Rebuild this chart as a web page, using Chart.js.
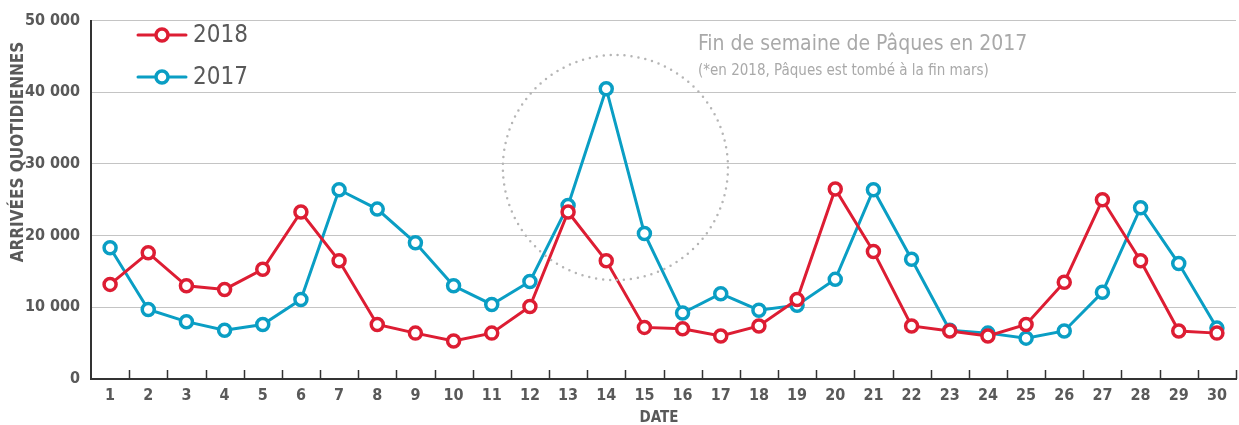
<!DOCTYPE html>
<html>
<head>
<meta charset="utf-8">
<script src="https://cdn.jsdelivr.net/npm/chart.js@4/dist/chart.umd.min.js"></script>
<style>
  html, body { margin: 0; padding: 0; background: #fff; }
  #wrap { width: 1239px; height: 425px; position: relative; }
</style>
</head>
<body>
<div id="wrap"><canvas id="chartCanvas"></canvas></div>
<script>
// data
const days = Array.from({ length: 30 }, (_, i) => String(i + 1));
const arrivals2018 = [13200, 17600, 13000, 12500, 15300, 23300, 16500, 7600, 6400, 5300,
  6400, 10100, 23300, 16500, 7200, 7000, 6000, 7400, 11100, 26500,
  17800, 7400, 6700, 6000, 7600, 13500, 25000, 16500, 6700, 6400];
const arrivals2017 = [18300, 9700, 8000, 6800, 7600, 11100, 26400, 23700, 19000, 13000,
  10400, 13600, 24200, 40500, 20300, 9200, 11900, 9600, 10300, 13900,
  26400, 16700, 6800, 6400, 5700, 6700, 12100, 23900, 16100, 7100];
const yTicks = [0, 10000, 20000, 30000, 40000, 50000];

const RED = '#dd1d33';
const BLUE = '#0a9ec4';
const TEXT = '#595959';
const FONT = '"Liberation Sans Narrow", "DejaVu Sans Condensed", "Liberation Sans", sans-serif';

const fmt = v => String(v).replace(/\B(?=(\d{3})+(?!\d))/g, ' ');

// extras: easter circle, notes, legend, inside x ticks, axis titles
const extras = {
  id: 'extras',
  afterDraw(chart) {
    const { ctx, scales: { x, y }, chartArea } = chart;
    ctx.save();

    // tick marks between days, pointing up from the axis
    ctx.strokeStyle = '#333';
    ctx.lineWidth = 1.5;
    const step = x.getPixelForValue(1) - x.getPixelForValue(0);
    for (let i = 1; i <= days.length; i++) {
      const px = Math.round(x.getPixelForValue(i - 1) + step / 2) + 0.5;
      ctx.beginPath();
      ctx.moveTo(px, chartArea.bottom);
      ctx.lineTo(px, chartArea.bottom - 9);
      ctx.stroke();
    }

    // dotted circle around the Easter peak
    const cx = x.getPixelForValue(13) + step * 0.24;
    const cy = y.getPixelForValue(29500);
    const r = y.getPixelForValue(0) - y.getPixelForValue(15700);
    ctx.strokeStyle = '#b5b5b5';
    ctx.lineWidth = 2.5;
    ctx.lineCap = 'round';
    ctx.setLineDash([0, 7]);
    ctx.beginPath();
    ctx.arc(cx, cy, r, 0, Math.PI * 2);
    ctx.stroke();
    ctx.setLineDash([]);

    // annotation
    ctx.fillStyle = '#a9a9a9';
    ctx.textAlign = 'left';
    ctx.textBaseline = 'middle';
    ctx.font = '21px ' + FONT;
    ctx.fillText('Fin de semaine de Pâques en 2017', 698, 45);
    ctx.font = '15px ' + FONT;
    ctx.fillText('(*en 2018, Pâques est tombé à la fin mars)', 698, 71);

    // legend
    const items = [['2018', RED, 35], ['2017', BLUE, 77]];
    items.forEach(([label, color, ly]) => {
      ctx.strokeStyle = color;
      ctx.lineWidth = 3;
      ctx.beginPath();
      ctx.moveTo(138, ly);
      ctx.lineTo(186, ly);
      ctx.stroke();
      ctx.fillStyle = '#fff';
      ctx.lineWidth = 3.5;
      ctx.beginPath();
      ctx.arc(162, ly, 6, 0, Math.PI * 2);
      ctx.fill();
      ctx.stroke();
      ctx.fillStyle = TEXT;
      ctx.font = '24px ' + FONT;
      ctx.fillText(label, 193, ly + 1);
    });

    // x axis title
    ctx.fillStyle = TEXT;
    ctx.textAlign = 'center';
    ctx.font = 'bold 15px ' + FONT;
    ctx.fillText('DATE', 659, 418);

    // y axis title
    ctx.translate(19, 152);
    ctx.rotate(-Math.PI / 2);
    ctx.font = 'bold 17px ' + FONT;
    ctx.fillText('ARRIVÉES QUOTIDIENNES', 0, 0);

    ctx.restore();
  }
};

const ctx = document.getElementById('chartCanvas').getContext('2d');
new Chart(ctx, {
  type: 'line',
  data: {
    labels: days,
    datasets: [
      { label: '2018', data: arrivals2018, borderColor: RED },
      { label: '2017', data: arrivals2017, borderColor: BLUE }
    ].map(d => Object.assign(d, {
      borderWidth: 3,
      backgroundColor: '#fff',
      pointBackgroundColor: '#fff',
      pointBorderColor: d.borderColor,
      pointBorderWidth: 3.5,
      pointRadius: 6,
      tension: 0,
      clip: 10
    }))
  },
  options: {
    responsive: true,
    maintainAspectRatio: false,
    animation: false,
    layout: { autoPadding: false, padding: { top: 19, right: 3, left: 0, bottom: 0 } },
    plugins: { legend: { display: false }, tooltip: { enabled: false } },
    scales: {
      x: {
        offset: true,
        grid: { display: false, drawTicks: false },
        border: { display: true, color: '#333', width: 2 },
        ticks: { color: TEXT, font: { family: FONT, size: 16, weight: 'bold' }, padding: 7, maxRotation: 0, autoSkip: false },
        afterFit(s) { s.height = 46; s.paddingLeft = 0; s.paddingRight = 0; }
      },
      y: {
        min: 0,
        max: 50000,
        afterBuildTicks(s) { s.ticks = yTicks.map(v => ({ value: v })); },
        grid: { color: '#c4c4c4', lineWidth: 1, drawTicks: false },
        border: { display: true, color: '#333', width: 2 },
        ticks: { color: TEXT, font: { family: FONT, size: 16, weight: 'bold' }, padding: 11, callback: v => fmt(v) },
        afterFit(s) { s.width = 91; }
      }
    }
  },
  plugins: [extras]
});
</script>
</body>
</html>
